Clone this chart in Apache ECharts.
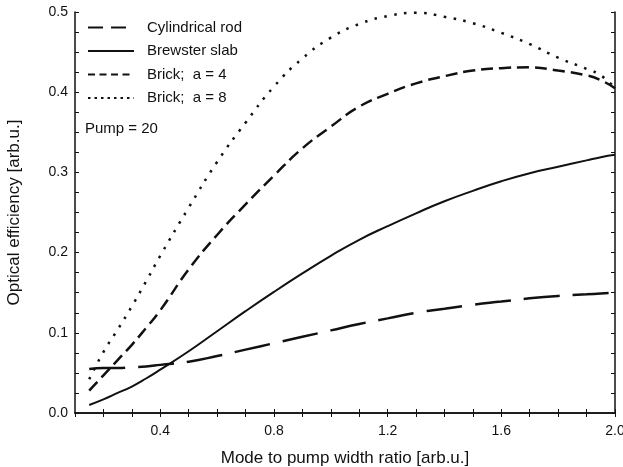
<!DOCTYPE html>
<html>
<head>
<meta charset="utf-8">
<script src="https://cdn.jsdelivr.net/npm/echarts@6/dist/echarts.min.js"></script>
<style>
  html, body { margin: 0; padding: 0; background: #fff; }
  #main { width: 623px; height: 467px; }
</style>
</head>
<body>
<div id="main"></div>
<script type="text/javascript">
    // x 值 (mode to pump width ratio)
    var xs = [0.15, 0.2, 0.25, 0.3, 0.35, 0.4, 0.5, 0.6, 0.7, 0.8, 0.9, 1.0, 1.1, 1.2, 1.3, 1.4, 1.5, 1.6, 1.7, 1.8, 1.9, 1.95, 2.0];
    var seriesNames = ['Cylindrical rod', 'Brewster slab', 'Brick;  a = 4', 'Brick;  a = 8'];
    var rod      = [0.055, 0.056, 0.056, 0.057, 0.058, 0.060, 0.064, 0.071, 0.079, 0.087, 0.095, 0.103, 0.111, 0.118, 0.125, 0.130, 0.135, 0.139, 0.143, 0.146, 0.148, 0.149, 0.150];
    var brewster = [0.010, 0.017, 0.025, 0.033, 0.043, 0.054, 0.077, 0.102, 0.127, 0.151, 0.174, 0.196, 0.216, 0.233, 0.249, 0.264, 0.277, 0.289, 0.299, 0.307, 0.315, 0.319, 0.322];
    var brick4   = [0.028, 0.047, 0.066, 0.085, 0.106, 0.128, 0.179, 0.222, 0.260, 0.296, 0.330, 0.357, 0.382, 0.398, 0.411, 0.420, 0.427, 0.430, 0.431, 0.427, 0.421, 0.415, 0.405];
    var brick8   = [0.042, 0.076, 0.104, 0.133, 0.164, 0.196, 0.256, 0.313, 0.362, 0.407, 0.442, 0.468, 0.485, 0.495, 0.499, 0.494, 0.486, 0.474, 0.460, 0.443, 0.429, 0.421, 0.405];

    function pairs(ys) {
        var out = [];
        for (var i = 0; i < xs.length; i++) out.push([xs[i], ys[i]]);
        return out;
    }

    var font = 'Liberation Sans';
    var ink = '#111';

    var myChart = echarts.init(document.getElementById('main'));

    var option = {
        backgroundColor: '#fff',
        animation: false,
        grid: { left: 75, right: 8, top: 12, bottom: 54, outerBoundsMode: 'none', containLabel: false },
        legend: {
            orient: 'vertical',
            left: 82, top: 15,
            itemWidth: 46, itemHeight: 14, itemGap: 8.5,
            itemStyle: { opacity: 0 },
            textStyle: { fontFamily: font, fontSize: 15, color: ink, padding: [0, 0, 0, 8] },
            data: [
                { name: seriesNames[0], lineStyle: { type: [15, 8] } },
                { name: seriesNames[1] },
                { name: seriesNames[2], lineStyle: { type: [7, 4.5] } },
                { name: seriesNames[3], lineStyle: { type: [2.5, 4] } }
            ]
        },
        graphic: [{
            type: 'text', left: 85, top: 121,
            style: { text: 'Pump = 20', font: '15px "Liberation Sans"', fill: ink }
        }],
        xAxis: [{
            type: 'value', min: 0.1, max: 2.0, interval: 0.1,
            name: 'Mode to pump width ratio [arb.u.]', nameLocation: 'middle', nameGap: 37,
            nameTextStyle: { fontFamily: font, fontSize: 17, color: ink },
            axisLine: { lineStyle: { color: ink, width: 1.5 } },
            axisTick: { inside: true, length: 4, lineStyle: { color: ink } },
            splitLine: { show: false },
            axisLabel: {
                fontFamily: font, fontSize: 14, color: ink, margin: 11, showMinLabel: false,
                formatter: function (v) { return Math.round(v * 10) % 4 === 0 ? v.toFixed(1) : ''; }
            }
        }, {
            type: 'value', position: 'top', min: 0.1, max: 2.0, interval: 0.1,
            axisLine: { lineStyle: { color: ink, width: 1.5 } },
            axisTick: { inside: true, length: 4, lineStyle: { color: ink } },
            axisLabel: { show: false }, splitLine: { show: false }
        }],
        yAxis: [{
            type: 'value', min: 0, max: 0.5, interval: 0.025,
            name: 'Optical efficiency [arb.u.]', nameLocation: 'middle', nameGap: 52,
            nameTextStyle: { fontFamily: font, fontSize: 17, color: ink },
            axisLine: { show: true, lineStyle: { color: ink, width: 1.5 } },
            axisTick: { show: true, inside: true, length: 4, lineStyle: { color: ink } },
            splitLine: { show: false },
            axisLabel: {
                fontFamily: font, fontSize: 14, color: ink, margin: 7,
                formatter: function (v) { return Math.round(v * 40) % 4 === 0 ? v.toFixed(1) : ''; }
            }
        }, {
            type: 'value', position: 'right', min: 0, max: 0.5, interval: 0.025,
            axisLine: { show: true, lineStyle: { color: ink, width: 1.5 } },
            axisTick: { show: true, inside: true, length: 4, lineStyle: { color: ink } },
            axisLabel: { show: false }, splitLine: { show: false }
        }],
        series: [{
            name: seriesNames[0], type: 'line', smooth: true, symbol: 'none',
            lineStyle: { color: ink, width: 2.5, type: [36, 13] },
            data: pairs(rod)
        }, {
            name: seriesNames[1], type: 'line', smooth: true, symbol: 'none',
            lineStyle: { color: ink, width: 2 },
            data: pairs(brewster)
        }, {
            name: seriesNames[2], type: 'line', smooth: true, symbol: 'none',
            lineStyle: { color: ink, width: 2.5, type: [12, 6] },
            data: pairs(brick4)
        }, {
            name: seriesNames[3], type: 'line', smooth: true, symbol: 'none',
            lineStyle: { color: ink, width: 2.5, type: [2.5, 7.5] },
            data: pairs(brick8)
        }]
    };

    myChart.setOption(option);
</script>
</body>
</html>
